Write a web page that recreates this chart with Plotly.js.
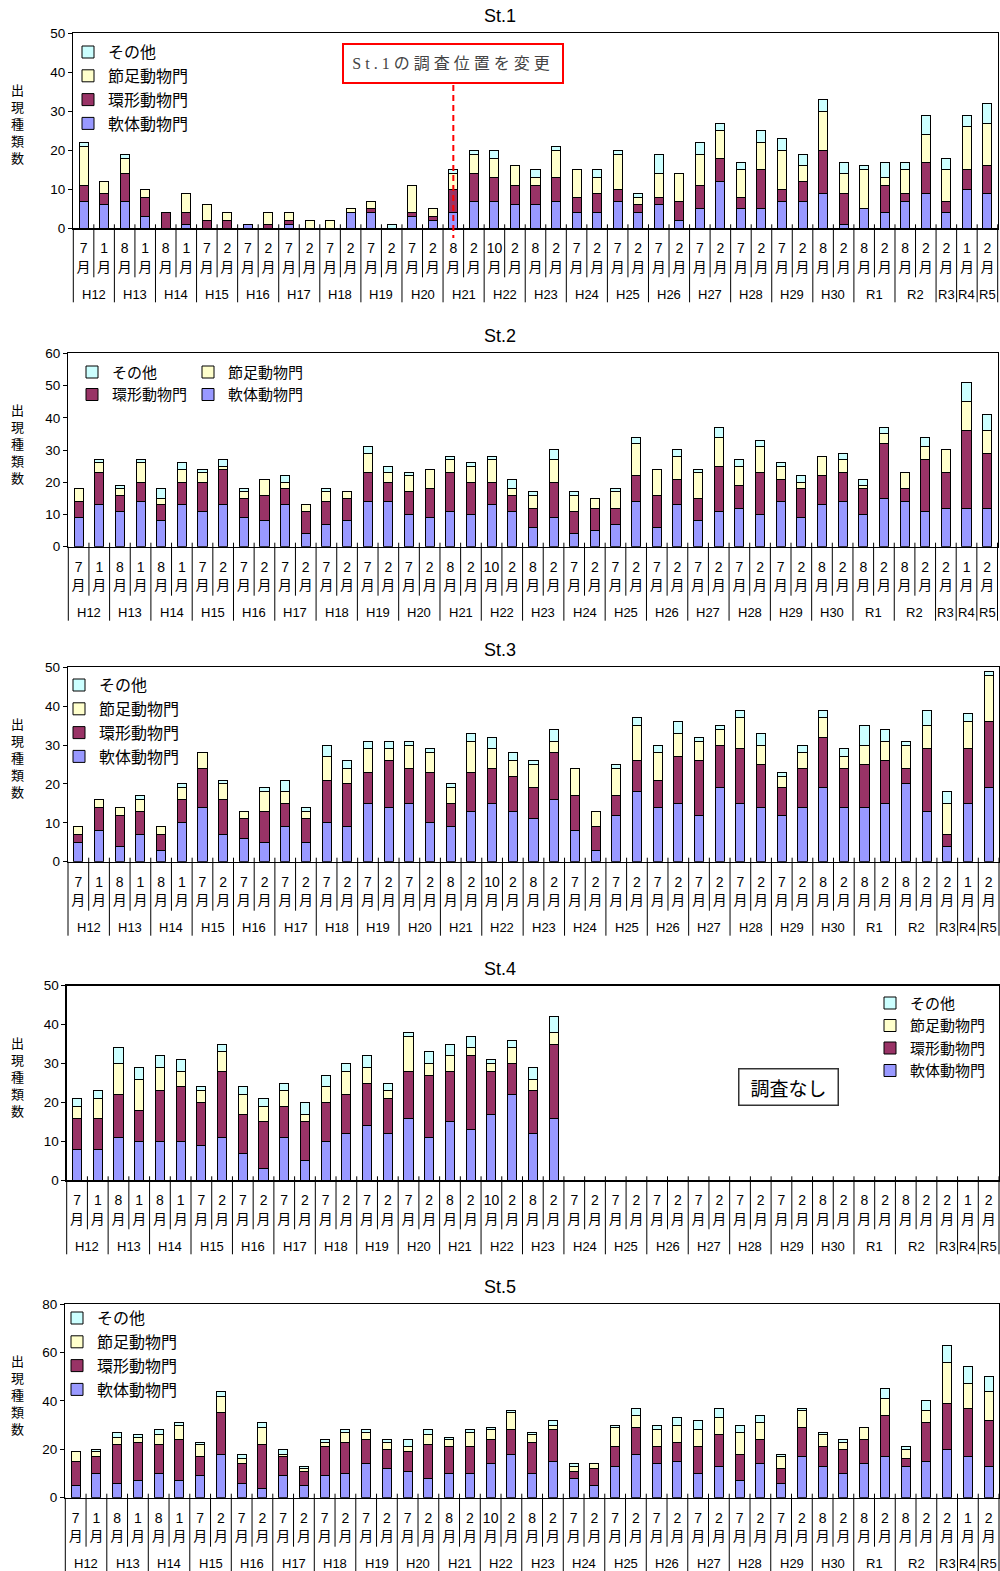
<!DOCTYPE html>
<html>
<head>
<meta charset="utf-8">
<script src="https://cdn.plot.ly/plotly-3.0.1.min.js"></script>
<style>
  html, body { margin: 0; padding: 0; background: #ffffff; }
  #chart { width: 1000px; height: 1571px; }
</style>
</head>
<body>
<div id="chart"></div>
<script>
// Survey periods (fiscal year group and month of each survey)
const surveyYears = [
  'H12','H12','H13','H13','H14','H14','H15','H15','H16','H16',
  'H17','H17','H18','H18','H19','H19','H20','H20','H21','H21',
  'H22','H22','H23','H23','H24','H24','H25','H25','H26','H26',
  'H27','H27','H28','H28','H29','H29','H30','H30','R1','R1',
  'R2','R2','R3','R4','R5'
];
const surveyMonths = [
  '7','1','8','1','8','1','7','2','7','2',
  '7','2','7','2','7','2','7','2','8','2',
  '10','2','8','2','7','2','7','2','7','2',
  '7','2','7','2','7','2','8','2','8','2',
  '8','2','2','1','2'
];

// Series names (stack order bottom to top) and colours
const phyla = ['軟体動物門', '環形動物門', '節足動物門', 'その他'];
const phylumColors = ['#9999FF', '#993366', '#FFFFCC', '#CCFFFF'];

// St.1
const st1Mollusca   = [7,6,7,3,0,1,0,0,1,0,1,0,0,4,4,0,3,2,4,7,7,6,6,7,4,4,7,4,6,2,5,12,5,5,7,7,9,1,5,4,7,9,4,10,9];
const st1Annelida   = [4,3,7,5,4,3,2,2,0,1,1,0,0,0,1,0,1,1,6,7,6,5,5,6,4,5,3,2,2,5,6,6,3,10,3,5,11,8,0,7,2,8,3,5,7];
const st1Arthropoda = [10,3,4,2,0,5,4,2,0,3,2,2,2,1,2,0,7,2,4,5,5,5,2,7,7,4,9,2,6,7,8,7,7,7,10,4,10,5,10,2,6,7,8,11,11];
const st1Other      = [1,0,1,0,0,0,0,0,0,0,0,0,0,0,0,1,0,0,1,1,2,0,2,1,0,2,1,1,5,0,3,2,2,3,3,3,3,3,1,4,2,5,3,3,5];

// St.2
const st2Mollusca   = [9,13,11,14,8,13,11,13,9,8,13,4,7,8,14,14,10,9,11,10,13,11,6,9,4,5,7,14,6,13,8,11,12,10,14,9,13,14,10,15,14,11,12,12,12];
const st2Annelida   = [5,10,5,6,5,7,9,11,6,8,5,7,7,7,9,6,7,9,12,10,7,5,6,11,7,7,5,8,10,8,7,14,7,13,7,9,9,9,8,17,4,16,11,24,17];
const st2Arthropoda = [4,3,2,6,2,4,3,1,2,5,2,2,3,2,6,3,5,6,4,5,7,2,4,7,5,3,5,10,8,7,8,9,6,8,4,2,6,4,1,3,5,4,7,9,7];
const st2Other      = [0,1,1,1,3,2,1,2,1,0,2,0,1,0,2,2,1,0,1,1,1,3,1,3,1,0,1,2,0,2,1,3,2,2,1,2,0,2,2,2,0,3,0,6,5];

// St.3
const st3Mollusca   = [5,8,4,7,3,10,14,7,6,5,9,5,10,9,15,14,15,10,9,13,15,13,11,16,8,3,12,18,14,15,12,19,15,14,12,14,19,14,14,15,20,13,4,15,19];
const st3Annelida   = [2,6,8,6,4,6,10,9,5,8,6,6,11,11,8,12,9,13,6,10,9,9,8,12,9,6,5,8,7,12,14,11,14,11,7,10,13,10,11,11,4,16,3,14,17];
const st3Arthropoda = [2,2,2,3,2,3,4,4,2,5,3,2,6,4,6,3,6,5,4,8,5,4,6,3,7,4,7,9,7,6,5,4,8,5,3,4,5,3,5,5,6,6,8,7,12];
const st3Other      = [0,0,0,1,0,1,0,1,0,1,3,1,3,2,2,2,1,1,1,2,3,2,1,3,0,0,1,2,2,3,1,1,2,3,1,2,2,2,5,3,1,4,3,2,1];

// St.4 (no survey from H24 onward)
const st4Mollusca   = [8,8,11,10,10,10,9,11,7,3,11,5,10,12,14,12,16,11,15,13,17,22,12,16,null,null,null,null,null,null,null,null,null,null,null,null,null,null,null,null,null,null,null,null,null];
const st4Annelida   = [8,8,11,8,13,14,11,17,10,12,8,10,10,10,11,9,12,16,13,19,11,8,11,19,null,null,null,null,null,null,null,null,null,null,null,null,null,null,null,null,null,null,null,null,null];
const st4Arthropoda = [3,5,8,8,6,4,3,5,5,4,4,2,4,6,4,2,9,3,4,2,2,4,3,3,null,null,null,null,null,null,null,null,null,null,null,null,null,null,null,null,null,null,null,null,null];
const st4Other      = [2,2,4,3,3,3,1,2,2,2,2,3,3,2,3,2,1,3,3,3,1,2,3,4,null,null,null,null,null,null,null,null,null,null,null,null,null,null,null,null,null,null,null,null,null];

// St.5
const st5Mollusca   = [5,10,6,7,10,7,9,18,6,4,9,5,9,10,14,12,11,8,10,10,14,18,10,15,8,5,13,18,14,15,10,13,7,14,6,17,13,10,14,17,13,15,20,17,13];
const st5Annelida   = [10,7,16,16,12,17,8,17,8,18,8,6,12,13,10,8,8,14,11,11,10,10,13,13,3,7,8,11,7,8,11,13,11,10,6,12,8,10,10,17,3,16,19,20,19];
const st5Arthropoda = [4,2,3,2,4,6,5,7,2,7,1,1,2,4,3,3,2,4,3,6,4,7,3,2,2,2,8,5,7,7,7,7,9,7,5,7,5,3,5,7,4,5,17,10,12];
const st5Other      = [0,1,2,1,2,1,1,2,2,2,2,1,1,1,1,1,3,2,1,1,1,1,1,2,1,0,1,3,2,3,4,4,3,3,1,1,1,1,0,4,1,4,7,7,6];

// ---------------------------------------------------------------
const W = 1000, H = 1571;
const FONT_LAT = '"Liberation Sans", Arial, "Noto Sans CJK JP", sans-serif';
const FONT_JP = '"Noto Sans CJK JP", "Liberation Sans", sans-serif';

// Panel frames in pixels: [left, right, top, bottom]
const stations = [
  { title: 'St.1', yMax: 50, series: [st1Mollusca, st1Annelida, st1Arthropoda, st1Other], box: [73.3, 997.7, 33.3, 228.3] },
  { title: 'St.2', yMax: 60, series: [st2Mollusca, st2Annelida, st2Arthropoda, st2Other], box: [68.3, 997.5, 353.3, 546.7] },
  { title: 'St.3', yMax: 50, series: [st3Mollusca, st3Annelida, st3Arthropoda, st3Other], box: [68.0, 999.0, 667.3, 861.7] },
  { title: 'St.4', yMax: 50, series: [st4Mollusca, st4Annelida, st4Arthropoda, st4Other], box: [66.7, 999.0, 985.7, 1180.3] },
  { title: 'St.5', yMax: 80, series: [st5Mollusca, st5Annelida, st5Arthropoda, st5Other], box: [65.3, 999.0, 1304.0, 1497.7] }
];

// Legend placement: which legend each phylum goes to, per panel
// (text start x, first row centre y, font size)
const legendSpecs = [
  { ids: ['legend','legend','legend','legend'], boxes: { legend: { tx: 108, cy: 51, fs: 16 } } },
  { ids: ['legend3','legend2','legend3','legend2'], boxes: {
      legend2: { tx: 112, cy: 371, fs: 15 },
      legend3: { tx: 228, cy: 371, fs: 15 } } },
  { ids: ['legend4','legend4','legend4','legend4'], boxes: { legend4: { tx: 99, cy: 684, fs: 16 } } },
  { ids: ['legend5','legend5','legend5','legend5'], boxes: { legend5: { tx: 910, cy: 1002, fs: 15 } } },
  { ids: ['legend6','legend6','legend6','legend6'], boxes: { legend6: { tx: 97, cy: 1317, fs: 16 } } }
];

const idx = surveyMonths.map((_, i) => i);
const n = surveyMonths.length;

const data = [];
const layout = {
  width: W, height: H,
  margin: { l: 0, r: 0, t: 0, b: 0 },
  paper_bgcolor: '#ffffff', plot_bgcolor: '#ffffff',
  barmode: 'stack', bargap: 0.56,
  showlegend: true,
  font: { family: FONT_LAT, size: 13, color: '#000' },
  annotations: [], shapes: []
};

// Year groups derived from consecutive survey years
const groups = [];
surveyYears.forEach((y, i) => {
  if (groups.length && groups[groups.length - 1].year === y) groups[groups.length - 1].end = i;
  else groups.push({ year: y, start: i, end: i });
});

stations.forEach((st, si) => {
  const ax = si === 0 ? '' : String(si + 1);
  const [L, R, T, B] = st.box;
  const ph = B - T;
  const xa = 'x' + ax, ya = 'y' + ax;
  const spec = legendSpecs[si];

  st.series.forEach((vals, pi) => {
    data.push({
      type: 'bar', x: idx, y: vals, name: phyla[pi],
      xaxis: xa, yaxis: ya,
      legend: spec.ids[pi],
      marker: { color: phylumColors[pi], line: { color: '#000', width: 1 } },
      hoverinfo: 'skip'
    });
  });

  layout['xaxis' + ax] = {
    domain: [L / W, R / W], anchor: ya,
    range: [-0.5, n - 0.5], tickmode: 'array', tickvals: idx,
    ticktext: surveyMonths.map(m => m + '<br>月'),
    tickangle: 0, ticks: '', ticklabelstandoff: 7,
    tickfont: { family: FONT_LAT, size: 14, color: '#000' },
    showline: true, mirror: true, linecolor: '#000', linewidth: 1.3,
    showgrid: false, zeroline: false, fixedrange: true
  };
  layout['yaxis' + ax] = {
    domain: [1 - B / H, 1 - T / H], anchor: xa,
    range: [0, st.yMax], tick0: 0, dtick: st.yMax === 80 ? 20 : 10,
    ticks: 'outside', ticklen: 4, tickcolor: '#000',
    tickfont: { family: FONT_LAT, size: 13.5, color: '#000' },
    showline: true, mirror: true, linecolor: '#000', linewidth: 1.3,
    showgrid: false, zeroline: false, fixedrange: true
  };

  // Panel title
  layout.annotations.push({
    text: st.title, xref: 'paper', yref: ya + ' domain',
    x: 0.5, y: 1 + 17 / ph, xanchor: 'center', yanchor: 'middle',
    showarrow: false, font: { family: FONT_LAT, size: 18, color: '#000' }
  });

  // Vertical axis title
  layout.annotations.push({
    text: '出<br>現<br>種<br>類<br>数', xref: 'paper', yref: ya + ' domain',
    x: 17 / W, y: 0.535, xanchor: 'center', yanchor: 'middle',
    showarrow: false, font: { family: FONT_JP, size: 13, color: '#000' }
  });

  // Year group labels and separators under the axis
  groups.forEach(g => {
    layout.annotations.push({
      text: g.year, xref: xa, yref: ya + ' domain',
      x: (g.start + g.end) / 2, y: -66 / ph, xanchor: 'center', yanchor: 'middle',
      showarrow: false, font: { family: FONT_LAT, size: 13, color: '#000' }
    });
  });
  const groupEnds = new Set(groups.map(g => g.end));
  layout.shapes.push({
    type: 'line', xref: xa + ' domain', yref: ya + ' domain',
    x0: 0, x1: 0, y0: 0, y1: -74 / ph, line: { color: '#000', width: 1 }
  });
  for (let i = 0; i < n; i++) {
    const long = groupEnds.has(i);
    layout.shapes.push({
      type: 'line', xref: xa + ' domain', yref: ya + ' domain',
      x0: (i + 1) / n, x1: (i + 1) / n, y0: 4 / ph, y1: (long ? -74 : -49) / ph,
      line: { color: '#000', width: 1 }
    });
  }

  // Legends
  Object.keys(spec.boxes).forEach(id => {
    const b = spec.boxes[id];
    const rowH = 1.3 * b.fs + 3;
    layout[id] = {
      x: (b.tx - 40) / W, y: 1 - (b.cy - 4 - rowH / 2) / H,
      xref: 'paper', yref: 'paper', xanchor: 'left', yanchor: 'top',
      bgcolor: 'rgba(0,0,0,0)', borderwidth: 0,
      traceorder: 'reversed',
      font: { family: FONT_JP, size: b.fs, color: '#000' }
    };
  });
});

// St.1: note on the relocated sampling point
const st1 = stations[0];
const st1h = st1.box[3] - st1.box[2];
const relocIndex = 18;
layout.annotations.push({
  text: '<span style="letter-spacing:4px">St.1の調査位置を変更</span>',
  xref: 'x domain', yref: 'y domain',
  x: (relocIndex + 0.5) / n, y: (st1.box[3] - 63.5) / st1h,
  xanchor: 'center', yanchor: 'middle', showarrow: false,
  width: 216, height: 35, borderpad: 1,
  bordercolor: '#FF0000', borderwidth: 2, bgcolor: '#ffffff',
  font: { family: '"Liberation Serif", "Noto Sans CJK JP", serif', size: 16, color: '#444' }
});
layout.shapes.push({
  type: 'line', xref: 'x domain', yref: 'y domain',
  x0: (relocIndex + 0.5) / n, x1: (relocIndex + 0.5) / n,
  y0: (st1.box[3] - 85) / st1h, y1: (st1.box[3] - 238) / st1h,
  line: { color: '#FF0000', width: 2, dash: '6px,4px' }
});

// St.4: no survey notice
const st4 = stations[3];
const st4w = st4.box[1] - st4.box[0], st4h = st4.box[3] - st4.box[2];
layout.annotations.push({
  text: '調査なし', xref: 'x4 domain', yref: 'y4 domain',
  x: (788 - st4.box[0]) / st4w, y: (st4.box[3] - 1087) / st4h,
  xanchor: 'center', yanchor: 'middle', showarrow: false,
  width: 96, height: 33, borderpad: 1,
  bordercolor: '#333', borderwidth: 1.5, bgcolor: '#ffffff',
  font: { family: FONT_JP, size: 19, color: '#000' }
});

Plotly.newPlot('chart', data, layout, { staticPlot: true, displayModeBar: false });
</script>
</body>
</html>
